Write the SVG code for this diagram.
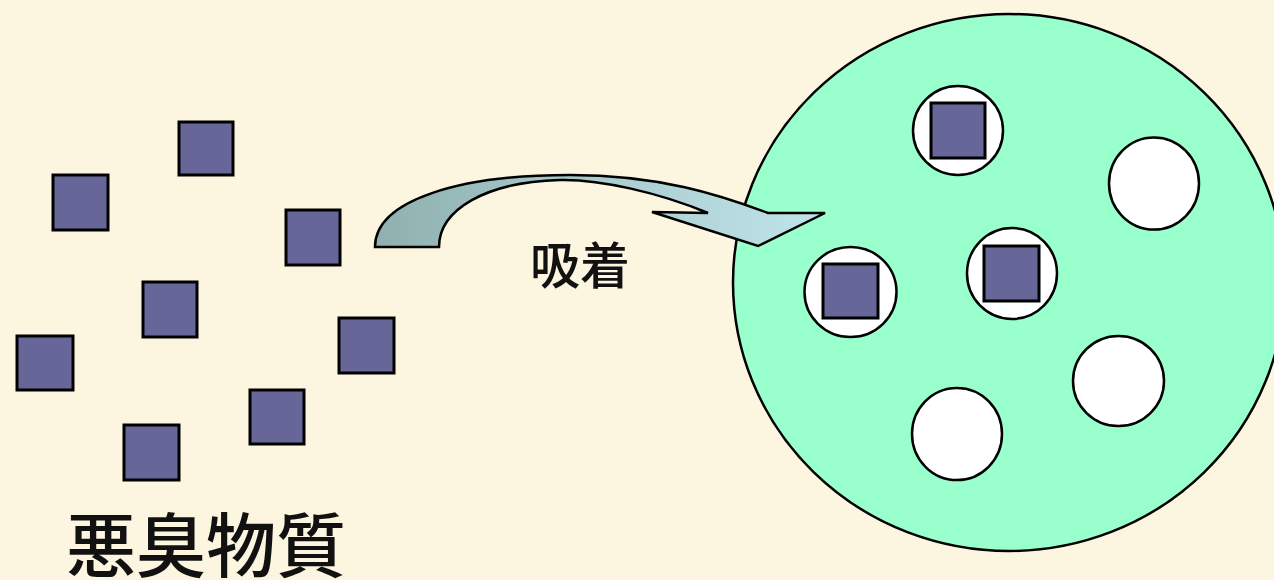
<svg xmlns="http://www.w3.org/2000/svg" width="1274" height="580" viewBox="0 0 1274 580">
<defs>
<style>
.sq{fill:#666699;stroke:#000;stroke-width:3}
.pore{fill:#fff;stroke:#000;stroke-width:2.5}
.lbl{font-family:"Noto Sans CJK JP","Noto Sans CJK SC",sans-serif;fill:#111}
</style>
<linearGradient id="ag" x1="375" y1="0" x2="825" y2="0" gradientUnits="userSpaceOnUse">
<stop offset="0" stop-color="#8fb0ae"/>
<stop offset="0.5" stop-color="#a9cccf"/>
<stop offset="1" stop-color="#bfe4ea"/>
</linearGradient>
</defs>
<rect width="1274" height="580" fill="#fcf6e0"/>
<g id="molecules">
<rect class="sq" x="179" y="122" width="54" height="53"/>
<rect class="sq" x="53" y="175" width="55" height="55"/>
<rect class="sq" x="286" y="210" width="54" height="55"/>
<rect class="sq" x="143" y="282" width="54" height="55"/>
<rect class="sq" x="17" y="336" width="56" height="54"/>
<rect class="sq" x="339" y="318" width="55" height="55"/>
<rect class="sq" x="250" y="390" width="54" height="54"/>
<rect class="sq" x="124" y="425" width="55" height="55"/>
</g>
<g id="adsorbent">
<ellipse cx="1009" cy="282.5" rx="276" ry="268.5" fill="#99ffcc" stroke="#000" stroke-width="2.5"/>
<g id="pore1"><ellipse class="pore" cx="958" cy="130.5" rx="45" ry="44.5"/><rect class="sq" x="931" y="103" width="54" height="55"/></g>
<g id="pore2"><ellipse class="pore" cx="1154" cy="183.5" rx="45" ry="46"/></g>
<g id="pore3"><ellipse class="pore" cx="850.5" cy="292" rx="46" ry="45"/><rect class="sq" x="823" y="264" width="55" height="54"/></g>
<g id="pore4"><ellipse class="pore" cx="1012" cy="273.5" rx="45" ry="45.5"/><rect class="sq" x="984" y="246" width="55" height="55"/></g>
<g id="pore5"><ellipse class="pore" cx="1118.5" cy="381" rx="45.5" ry="45"/></g>
<g id="pore6"><ellipse class="pore" cx="957" cy="434" rx="45" ry="46"/></g>
</g>
<g id="connectors">
<path d="M375,247 C375,200 460,175 570,175 C660,175 720,195 768,213 L825,213 L758,246 L652,212 L708,213 C660,193 600,179 560,180 C485,182 439,210 439,247 Z" fill="url(#ag)" stroke="#000" stroke-width="2.5" stroke-linejoin="miter"/>
</g>
<g id="labels">
<text class="lbl" x="530" y="284" font-size="50" font-weight="500">吸着</text>
<text class="lbl" x="66" y="572" font-size="70" font-weight="500">悪臭物質</text>
</g>
</svg>
